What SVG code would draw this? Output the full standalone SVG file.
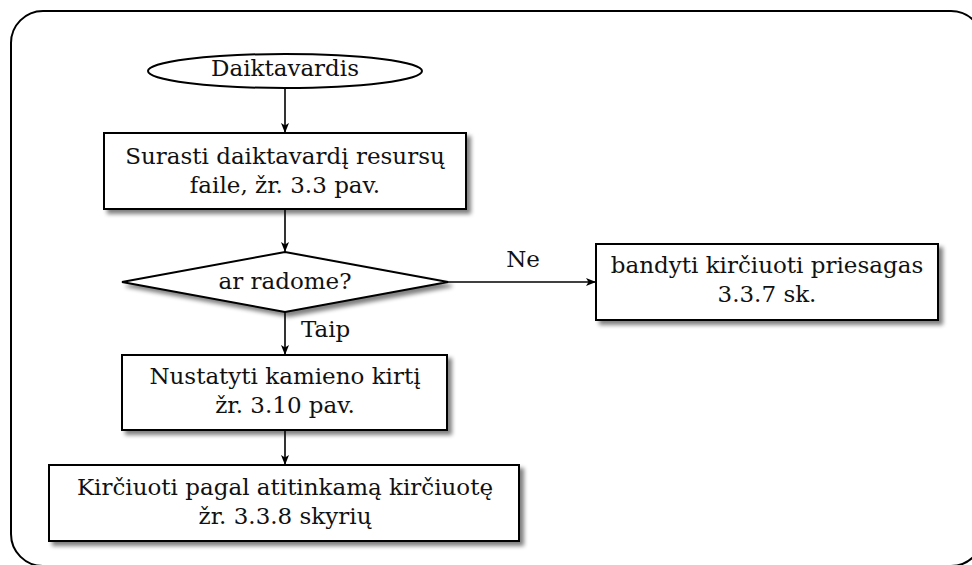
<svg xmlns="http://www.w3.org/2000/svg" width="972" height="565" viewBox="0 0 972 565">
  <defs>
    <filter id="shadow" x="-10%" y="-20%" width="130%" height="150%">
      <feGaussianBlur in="SourceAlpha" stdDeviation="2"/>
      <feOffset dx="4" dy="4" result="b"/>
      <feComponentTransfer><feFuncA type="linear" slope="0.5"/></feComponentTransfer>
      <feMerge><feMergeNode/><feMergeNode in="SourceGraphic"/></feMerge>
    </filter>
    <marker id="arrow" viewBox="0 0 10 8" refX="10" refY="4" markerWidth="10" markerHeight="8" markerUnits="userSpaceOnUse" orient="auto">
      <path d="M0,0 L10,4 L0,8 L2.5,4 Z" fill="#000"/>
    </marker>
  </defs>
  <style>
    .shape { fill: #fff; stroke: #000; stroke-width: 2; }
    .edge { fill: none; stroke: #000; stroke-width: 1.6; marker-end: url(#arrow); }
    .t { font-family: 'DejaVu Serif', serif; font-size: 23px; fill: #111; }
    .c { text-anchor: middle; }
  </style>

  <rect width="972" height="565" fill="#fff"/>
  <!-- outer frame -->
  <rect x="11" y="11" width="972" height="555" rx="32" ry="32" fill="none" stroke="#000" stroke-width="2"/>

  <g id="start">
    <ellipse class="shape" cx="285" cy="71" rx="137" ry="17"/>
    <text class="t c" x="285" y="76">Daiktavardis</text>
  </g>

  <g id="find">
    <rect class="shape" x="104" y="133" width="362" height="76" filter="url(#shadow)"/>
    <text class="t c" x="285" y="164">Surasti daiktavardį resursų</text>
    <text class="t c" x="285" y="193">faile, žr. 3.3 pav.</text>
  </g>

  <g id="found">
    <polygon class="shape" points="122,282 285,252 448,282 285,312" filter="url(#shadow)"/>
    <text class="t c" x="285" y="289">ar radome?</text>
  </g>

  <g id="suffixes">
    <rect class="shape" x="596" y="244" width="342" height="76" filter="url(#shadow)"/>
    <text class="t c" x="767" y="273">bandyti kirčiuoti priesagas</text>
    <text class="t c" x="767" y="302">3.3.7 sk.</text>
  </g>

  <g id="stem">
    <rect class="shape" x="122" y="355" width="325" height="75" filter="url(#shadow)"/>
    <text class="t c" x="285" y="384">Nustatyti kamieno kirtį</text>
    <text class="t c" x="285" y="413">žr. 3.10 pav.</text>
  </g>

  <g id="stress">
    <rect class="shape" x="49" y="465" width="470" height="76" filter="url(#shadow)"/>
    <text class="t c" x="285" y="495">Kirčiuoti pagal atitinkamą kirčiuotę</text>
    <text class="t c" x="285" y="524">žr. 3.3.8 skyrių</text>
  </g>

  <g id="connectors">
    <line class="edge" x1="285" y1="88" x2="285" y2="133"/>
    <line class="edge" x1="285" y1="209" x2="285" y2="252"/>
    <line class="edge" x1="448" y1="282" x2="596" y2="282"/>
    <line class="edge" x1="285" y1="312" x2="285" y2="355"/>
    <line class="edge" x1="285" y1="430" x2="285" y2="465"/>
    <text class="t c" x="523" y="267">Ne</text>
    <text class="t" x="301" y="337">Taip</text>
  </g>
</svg>
